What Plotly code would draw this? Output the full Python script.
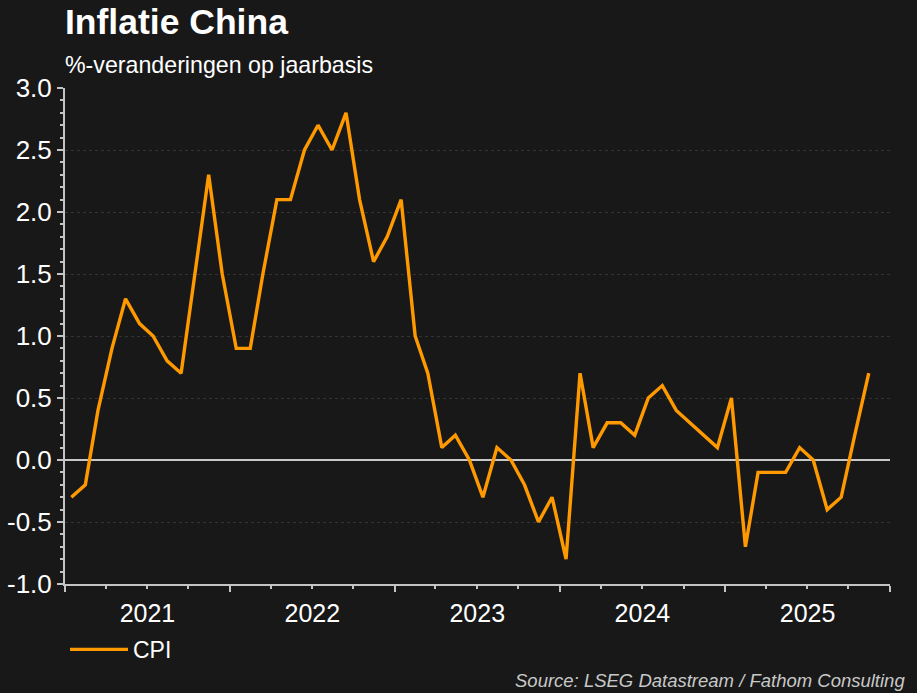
import plotly.graph_objects as go
import pandas as pd

cpi = [
    -0.3, -0.2, 0.4, 0.9, 1.3, 1.1, 1.0, 0.8, 0.7, 1.5, 2.3, 1.5,
    0.9, 0.9, 1.5, 2.1, 2.1, 2.5, 2.7, 2.5, 2.8, 2.1, 1.6, 1.8,
    2.1, 1.0, 0.7, 0.1, 0.2, 0.0, -0.3, 0.1, 0.0, -0.2, -0.5, -0.3,
    -0.8, 0.7, 0.1, 0.3, 0.3, 0.2, 0.5, 0.6, 0.4, 0.3, 0.2, 0.1,
    0.5, -0.7, -0.1, -0.1, -0.1, 0.1, 0.0, -0.4, -0.3, 0.2, 0.7,
]
months = pd.date_range("2021-01-01", periods=len(cpi), freq="MS") + pd.Timedelta(days=14)

title = "Inflatie China"
subtitle = "%-veranderingen op jaarbasis"
source = "Source: LSEG Datastream / Fathom Consulting"
y_ticks = [-1.0, -0.5, 0.0, 0.5, 1.0, 1.5, 2.0, 2.5, 3.0]
y_ticktext = ["%.1f" % v for v in y_ticks]

BG = "#181818"
ORANGE = "#FF9900"
AXIS = "#c4c4c4"

fig = go.Figure()
fig.add_trace(go.Scatter(
    x=months, y=cpi, mode="lines", name="CPI",
    line=dict(color=ORANGE, width=3.4),
))

fig.update_layout(
    width=917, height=693,
    paper_bgcolor=BG, plot_bgcolor=BG,
    margin=dict(l=65, r=27, t=88, b=109),
    font=dict(family="Liberation Sans, Arial, sans-serif", color="white"),
    showlegend=True,
    legend=dict(
        x=0.0, y=-0.132, xanchor="left", yanchor="middle", orientation="h",
        font=dict(size=23, color="white"), bgcolor="rgba(0,0,0,0)",
        itemwidth=58,
    ),
    annotations=[
        dict(text="<b>" + title + "</b>", xref="paper", yref="paper", x=0.0, y=1.0,
             xanchor="left", yanchor="middle", yshift=66, xshift=-2, showarrow=False,
             font=dict(size=35.5, color="white")),
        dict(text=subtitle, xref="paper", yref="paper", x=0.0, y=1.0,
             xanchor="left", yanchor="middle", yshift=23, xshift=-2, showarrow=False,
             font=dict(size=23.2, color="white")),
        dict(text="<i>" + source + "</i>", xref="paper", yref="paper", x=1.0, y=0.0,
             xanchor="right", yanchor="middle", xshift=17, yshift=-96, showarrow=False,
             font=dict(size=18.5, color="#c8c8c8")),
    ],
)

fig.update_xaxes(
    type="date", automargin=False,
    range=["2021-01-01", "2026-01-01"],
    dtick="M12", tick0="2021-01-01", tickformat="%Y", ticklabelmode="period",
    ticks="outside", ticklen=6, tickwidth=1.5, tickcolor=AXIS,
    showline=True, linecolor=AXIS, linewidth=2,
    showgrid=False, zeroline=False,
    tickfont=dict(size=25, color="white"),
    minor=dict(dtick="M3", tick0="2021-01-01", ticks="outside", ticklen=3,
               tickcolor=AXIS, tickwidth=1.5, showgrid=False),
)
fig.update_yaxes(
    range=[-1.0, 3.0], tickvals=y_ticks, ticktext=y_ticktext, automargin=False,
    ticks="outside", ticklen=6, tickwidth=1.5, tickcolor=AXIS,
    showline=True, linecolor=AXIS, linewidth=2,
    showgrid=True, gridcolor="#333333", griddash="dot", gridwidth=1,
    zeroline=True, zerolinecolor="#c8c8c8", zerolinewidth=1.5,
    tickfont=dict(size=26, color="white"),
    minor=dict(dtick=0.1, tick0=0, ticks="outside", ticklen=3,
               tickcolor=AXIS, tickwidth=1.5, showgrid=False),
)

fig.write_html("out.html", config={"displayModeBar": False})

with open("out.html", "r", encoding="utf-8") as f:
    html = f.read()
html = html.replace("<head>", "<head><style>html,body{margin:0;padding:0;background:%s;}</style>" % BG, 1)
with open("out.html", "w", encoding="utf-8") as f:
    f.write(html)
